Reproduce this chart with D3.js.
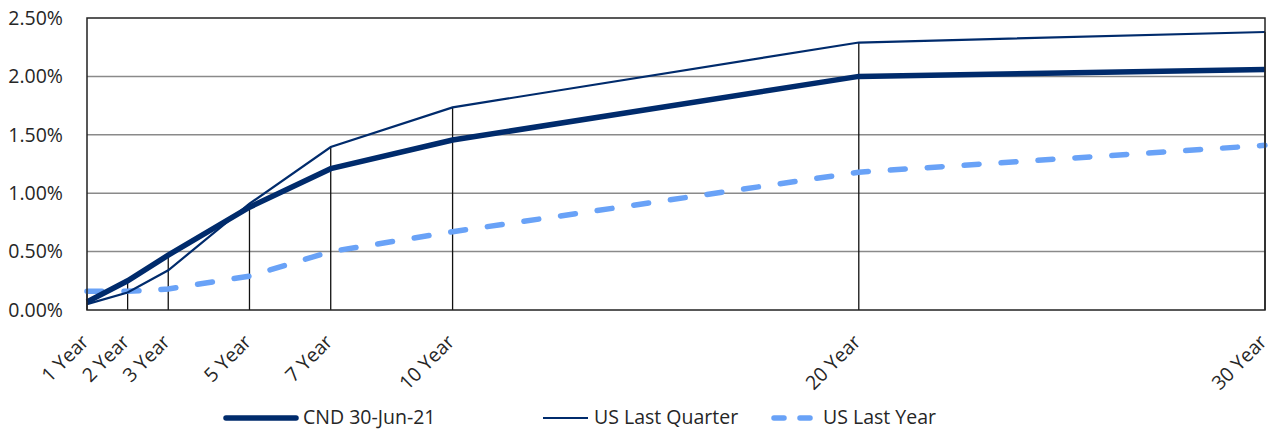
<!DOCTYPE html>
<html>
<head>
<meta charset="utf-8">
<script src="https://cdn.jsdelivr.net/npm/d3@7"></script>
<style>
  body { margin: 0; background: #fff; }
  text { font-family: "Open Sans", "Noto Sans", sans-serif; fill: #262626; }
</style>
</head>
<body>
<div id="chart"></div>
<script>
// tenors (years) and their labels
var tenors = [1, 2, 3, 5, 7, 10, 20, 30];
var tenorLabels = ["1 Year", "2 Year", "3 Year", "5 Year", "7 Year", "10 Year", "20 Year", "30 Year"];

// yields in percent
var cnd = [0.07, 0.25, 0.47, 0.88, 1.21, 1.455, 2.00, 2.06];
var usLastQuarter = [0.05, 0.15, 0.34, 0.91, 1.395, 1.735, 2.29, 2.38];
var usLastYear = [0.16, 0.16, 0.18, 0.29, 0.50, 0.67, 1.18, 1.41];

var yTicks = [0, 0.5, 1.0, 1.5, 2.0, 2.5];

var seriesNames = ["CND 30-Jun-21", "US Last Quarter", "US Last Year"];

var navy = "#002b6c", lightBlue = "#69a2f7";

var margin = {top: 18, right: 16, bottom: 120, left: 87},
    width = 1281 - margin.left - margin.right,
    height = 430 - margin.top - margin.bottom;

var svg = d3.select("#chart")
  .append("svg")
    .attr("width", 1281)
    .attr("height", 430)
  .append("g")
    .attr("transform", "translate(" + margin.left + "," + margin.top + ")");

var x = d3.scaleLinear()
  .domain([1, 30])
  .range([0, width]);

var y = d3.scaleLinear()
  .domain([0, 2.5])
  .range([height, 0]);

// gridlines
svg.append("g")
  .selectAll("line")
  .data(yTicks.slice(1, -1))
  .enter()
  .append("line")
    .attr("x1", 0)
    .attr("x2", width)
    .attr("y1", function(d) { return y(d); })
    .attr("y2", function(d) { return y(d); })
    .attr("stroke", "#8a8a8a")
    .attr("stroke-width", 1.5);

// y axis labels
svg.append("g")
  .call(d3.axisLeft(y).tickValues(yTicks).tickSize(0).tickPadding(24)
    .tickFormat(function(d) { return d.toFixed(2) + "%"; }))
  .call(function(g) { g.select(".domain").remove(); })
  .selectAll("text")
    .style("font-size", "19.5px")
    .style("font-family", "'Open Sans', sans-serif")
    .attr("fill", "#262626");

// drop lines to the highest point of each tenor
svg.append("g")
  .selectAll("line")
  .data(tenors)
  .enter()
  .append("line")
    .attr("x1", function(d) { return x(d); })
    .attr("x2", function(d) { return x(d); })
    .attr("y1", height)
    .attr("y2", function(d, i) { return y(Math.max(cnd[i], usLastQuarter[i], usLastYear[i])); })
    .attr("stroke", "#111")
    .attr("stroke-width", 1.3);

// x axis labels (rotated)
svg.append("g")
  .selectAll("text")
  .data(tenors)
  .enter()
  .append("text")
    .attr("text-anchor", "end")
    .attr("transform", function(d) {
      return "translate(" + (x(d) + 3) + "," + (height + 33) + ") rotate(-45)";
    })
    .style("font-size", "19.5px")
    .text(function(d, i) { return tenorLabels[i]; });

var line = d3.line()
  .x(function(d, i) { return x(tenors[i]); })
  .y(function(d) { return y(d); });

svg.append("path")
  .datum(usLastYear)
  .attr("d", line)
  .attr("fill", "none")
  .attr("stroke", lightBlue)
  .attr("stroke-width", 5.5)
  .attr("stroke-linecap", "round")
  .attr("stroke-dasharray", "15,22");

svg.append("path")
  .datum(usLastQuarter)
  .attr("d", line)
  .attr("fill", "none")
  .attr("stroke", navy)
  .attr("stroke-width", 2.2);

svg.append("path")
  .datum(cnd)
  .attr("d", line)
  .attr("fill", "none")
  .attr("stroke", navy)
  .attr("stroke-width", 5.5);

// plot frame
svg.append("rect")
  .attr("x", 0)
  .attr("y", 0)
  .attr("width", width)
  .attr("height", height)
  .attr("fill", "none")
  .attr("stroke", "#222")
  .attr("stroke-width", 1.5);

// legend
var legendX = [226, 543, 772];
var legend = svg.append("g")
  .attr("transform", "translate(" + (-margin.left) + "," + (-margin.top) + ")");

legend.append("line")
  .attr("x1", legendX[0]).attr("x2", legendX[0] + 70)
  .attr("y1", 418).attr("y2", 418)
  .attr("stroke", navy).attr("stroke-width", 5.5).attr("stroke-linecap", "round");
legend.append("line")
  .attr("x1", legendX[1]).attr("x2", legendX[1] + 45)
  .attr("y1", 418).attr("y2", 418)
  .attr("stroke", navy).attr("stroke-width", 2.2);
legend.append("line")
  .attr("x1", legendX[2] + 2).attr("x2", legendX[2] + 38)
  .attr("y1", 418).attr("y2", 418)
  .attr("stroke", lightBlue).attr("stroke-width", 5.5).attr("stroke-linecap", "round")
  .attr("stroke-dasharray", "10,16");

var legendTextX = [303, 594, 823];
legend.selectAll(".lt")
  .data(seriesNames)
  .enter()
  .append("text")
    .attr("class", "lt")
    .attr("x", function(d, i) { return legendTextX[i]; })
    .attr("y", 424)
    .style("font-size", "19.5px")
    .text(function(d) { return d; });
</script>
</body>
</html>
